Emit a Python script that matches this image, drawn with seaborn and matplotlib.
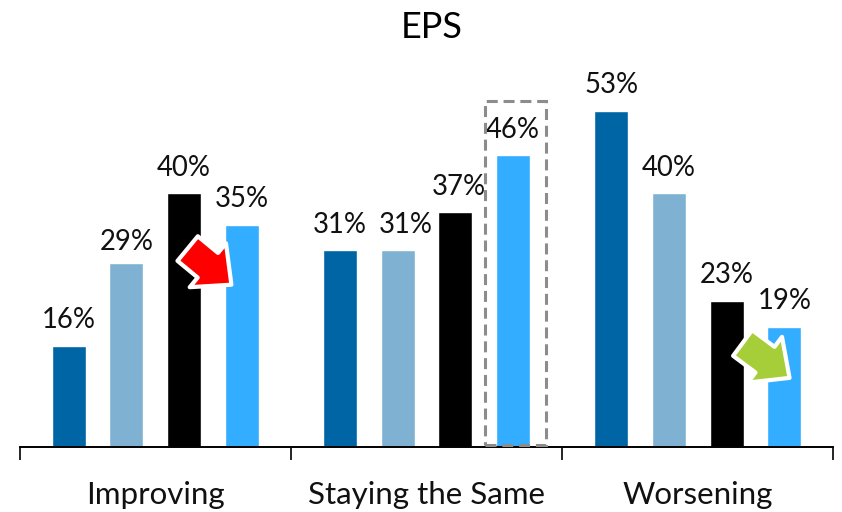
import matplotlib
matplotlib.use("Agg")
import matplotlib.pyplot as plt
import pandas as pd
import seaborn as sns
from matplotlib.patches import Rectangle

categories = ["Improving", "Staying the Same", "Worsening"]
periods = ["A", "B", "C", "D"]
values_a = [16, 31, 53]
values_b = [29, 31, 40]
values_c = [40, 37, 23]
values_d = [35, 46, 19]
palette = ["#0065A4", "#7FB2D2", "#000000", "#33ADFF"]

rows = []
for period, vals in zip(periods, [values_a, values_b, values_c, values_d]):
    for cat, val in zip(categories, vals):
        rows.append({"category": cat, "period": period, "value": val})
df = pd.DataFrame(rows)

sns.set_theme(style="white")
plt.rcParams["font.family"] = ["Lato", "DejaVu Sans"]

fig = plt.figure(figsize=(8.42, 5.12), dpi=100)
ax = fig.add_axes([19.5 / 842, 1 - 447 / 512, 814 / 842, 447 / 512])
ax.patch.set_alpha(0)

sns.barplot(data=df, x="category", y="value", hue="period", order=categories,
            hue_order=periods, palette=palette, width=0.85, gap=0.41,
            saturation=1, legend=False, ax=ax)

ax.set_xlim(-0.5, 2.5)
ax.set_ylim(0, 447 / 6.34)
ax.set_xlabel("")
ax.set_ylabel("")
ax.set_yticks([])
for side in ("top", "left", "right"):
    ax.spines[side].set_visible(False)
ax.spines["bottom"].set_color("black")
ax.spines["bottom"].set_linewidth(1.4)

# Group separators hang below the baseline; category names carry no tick.
ax.set_xticks([-0.5, 0.5, 1.5, 2.5], minor=True)
ax.tick_params(axis="x", which="minor", length=9.5, width=1.2, color="black",
               direction="out", bottom=True)
ax.tick_params(axis="x", which="major", length=0, pad=24.5, labelsize=22.5,
               labelcolor="#111111")

# Value labels; a few are nudged so neighbours do not collide.
label_nudges_x = [[0, 0, 0], [0, 8.5, 0], [0, 4, 0], [0, 0, 0]]
label_nudges_y = [[0, 0, 0], [-4.5, 0, 0], [0, 0, 0], [0, 0, 0]]
for container, dxs, dys in zip(ax.containers, label_nudges_x, label_nudges_y):
    for bar, dx, dy in zip(container, dxs, dys):
        ax.annotate(f"{bar.get_height():.0f}%",
                    (bar.get_x() + bar.get_width() / 2, bar.get_height()),
                    xytext=(dx * 0.72, 18.5 + dy * 0.72), textcoords="offset points",
                    ha="center", va="center", fontsize=19.8, color="#111111",
                    annotation_clip=False)

# Dashed highlight around the latest middle-group bar.
ax.add_patch(Rectangle((1.214, 0.3), 0.225, 54.2, fill=False, edgecolor="#8C8C8C",
                       linewidth=2.2, linestyle=(0, (3.6, 1.9)), clip_on=False,
                       zorder=4))

# Direction arrows with a white outline.
arrow_style = dict(width=23, headwidth=41, headlength=22, edgecolor="white",
                   linewidth=3, shrink=0)
ax.annotate("", xy=(0.281, 25.6), xytext=(0.1197, 31.3),
            arrowprops=dict(facecolor="#FF0000", **arrow_style), zorder=5)
ax.annotate("", xy=(2.338, 10.9), xytext=(2.165, 16.4),
            arrowprops=dict(facecolor="#A6CE39", **arrow_style), zorder=5)

fig.text(432 / 842, 1 - 27 / 512, "EPS", ha="center", va="center",
         fontsize=26, color="black")

fig.savefig("out.png", dpi=100, facecolor="white")
